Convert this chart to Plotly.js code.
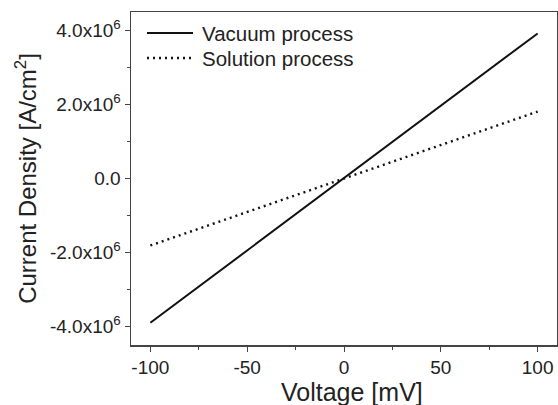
<!DOCTYPE html>
<html>
<head>
<meta charset="utf-8">
<script src="https://cdn.plot.ly/plotly-3.0.1.min.js"></script>
<style>html,body{margin:0;padding:0;background:#fff;}#chart{width:558px;height:405px;}</style>
</head>
<body>
<div id="chart"></div>
<script>
const voltage = [-100, -50, 0, 50, 100];
const vacuumProcess = [-3.9e6, -1.95e6, 0, 1.96e6, 3.92e6];
const solutionProcess = [-1.81e6, -0.9e6, 0, 0.9e6, 1.81e6];
const seriesNames = ["Vacuum process", "Solution process"];
const yTickVals = [-4e6, -2e6, 0, 2e6, 4e6];
const yTickText = ["-4.0x10<sup>6</sup>", "-2.0x10<sup>6</sup>", "0.0", "2.0x10<sup>6</sup>", "4.0x10<sup>6</sup>"];
const xTickVals = [-100, -50, 0, 50, 100];
const xTickText = ["-100", "-50", "0", "50", "100"];
const xTitle = "Voltage [mV]";
const yTitle = "Current Density [A/cm<sup>2</sup>]";

const font = "Liberation Sans, Arial, sans-serif";
const lineStyles = [
  {color: "#111", width: 2, dash: "solid"},
  {color: "#111", width: 2.4, dash: "2px,4px"}
];
const traces = [
  {x: voltage, y: vacuumProcess, name: seriesNames[0], mode: "lines", line: lineStyles[0]},
  {x: voltage, y: solutionProcess, name: seriesNames[1], mode: "lines", line: lineStyles[1]}
];

// custom legend (paper coordinates: plot area spans x 131..557, y 12..345)
const W = 426, H = 333;
const px = v => (v - 131) / W;
const py = v => (345 - v) / H;
const legendRows = [33, 58];
const shapes = legendRows.map((yy, i) => ({
  type: "line", xref: "paper", yref: "paper",
  x0: px(147), x1: px(i === 0 ? 193 : 191), y0: py(yy), y1: py(yy),
  line: {color: lineStyles[i].color, width: lineStyles[i].width, dash: lineStyles[i].dash}
}));
const annotations = legendRows.map((yy, i) => ({
  xref: "paper", yref: "paper", x: px(200), y: py(yy), xanchor: "left", yanchor: "middle",
  text: seriesNames[i], showarrow: false, font: {size: 20.5, family: font, color: "#222"}
}));
annotations.push({
  xref: "paper", yref: "paper", x: px(352), y: py(392), xanchor: "center", yanchor: "middle",
  text: xTitle, showarrow: false, font: {size: 25, family: font, color: "#222"}
});

const layout = {
  width: 558, height: 405,
  margin: {l: 131, r: 1, t: 12, b: 60},
  paper_bgcolor: "#fff", plot_bgcolor: "#fff",
  font: {family: font, color: "#222", size: 19},
  showlegend: false,
  shapes: shapes,
  annotations: annotations,
  xaxis: {
    range: [-110, 110], tickvals: xTickVals, ticktext: xTickText, ticks: "outside", ticklen: 5, tickwidth: 1,
    tickcolor: "#444", showline: true, linecolor: "#444", linewidth: 1.5, mirror: true,
    showgrid: false, zeroline: false, tickfont: {size: 19, color: "#222"},
    minor: {dtick: 25, ticks: "outside", ticklen: 3, tickcolor: "#444", showgrid: false}
  },
  yaxis: {
    range: [-4.5e6, 4.5e6], tickvals: yTickVals, ticktext: yTickText, ticks: "outside",
    ticklen: 5, tickwidth: 1, tickcolor: "#444", showline: true, linecolor: "#444",
    linewidth: 1.5, mirror: true, showgrid: false, zeroline: false,
    tickfont: {size: 19, color: "#222"},
    minor: {dtick: 1e6, ticks: "outside", ticklen: 3, tickcolor: "#444", showgrid: false},
    title: {text: yTitle, font: {size: 24, color: "#222"}, standoff: 6}
  }
};
Plotly.newPlot("chart", traces, layout, {displayModeBar: false, staticPlot: true});
</script>
</body>
</html>
